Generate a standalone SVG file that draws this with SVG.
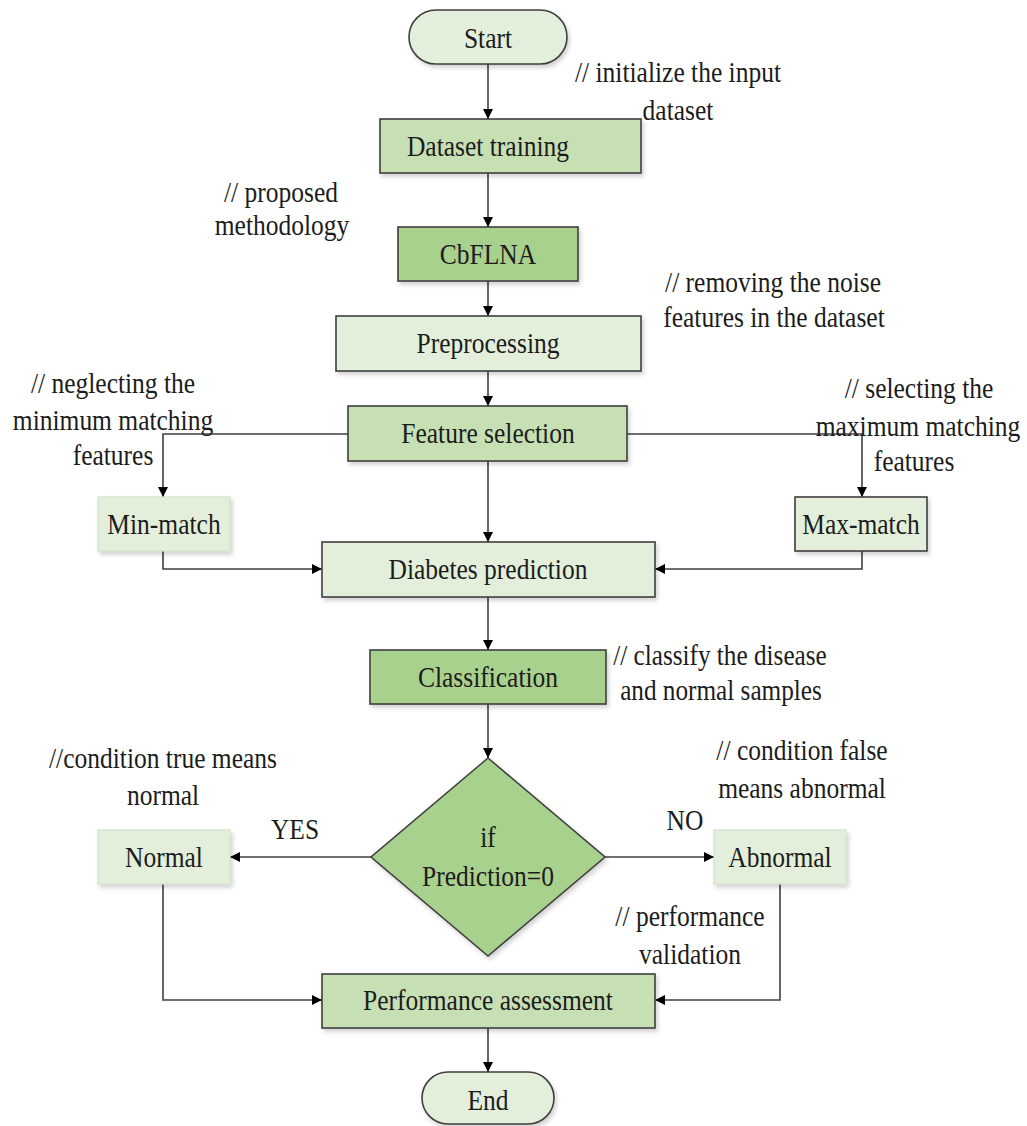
<svg xmlns="http://www.w3.org/2000/svg" width="1027" height="1126" viewBox="0 0 1027 1126">
<style>
text{font-family:"Liberation Serif","Times New Roman",serif;font-size:30px;fill:#1c1c1c;text-anchor:middle}
text.sm{font-size:29px}
.light{fill:#e3efda;stroke:#3f3f3f;stroke-width:1.6}
.pale{fill:#e3efda;stroke:#d3dfcb;stroke-width:1.2}
.mid{fill:#c6e0b4;stroke:#3f3f3f;stroke-width:1.6}
.dark{fill:#a9d18e;stroke:#3f3f3f;stroke-width:1.6}
.conn path{fill:none;stroke:#404040;stroke-width:1.6;marker-end:url(#arr)}
</style>
<defs>
<marker id="arr" markerUnits="userSpaceOnUse" markerWidth="11" markerHeight="11" refX="10" refY="5" orient="auto">
<path d="M0,0 L10,5 L0,10 z" fill="#000"/>
</marker>
<filter id="sh" x="-10%" y="-20%" width="130%" height="150%">
<feDropShadow dx="2" dy="3" stdDeviation="2" flood-color="#000" flood-opacity="0.18"/>
</filter>
</defs>
<rect width="1027" height="1126" fill="#fff"/>

<g class="conn">
<path d="M488,64 V119"/>
<path d="M488,173 V227"/>
<path d="M488,281 V316"/>
<path d="M488,371 V406"/>
<path d="M348,434 H163 V497"/>
<path d="M627,434 H862 V497"/>
<path d="M488,461 V542"/>
<path d="M163,551 V569 H322"/>
<path d="M862,551 V569 H655"/>
<path d="M488,597 V650"/>
<path d="M488,704 V758"/>
<path d="M371,857 H230"/>
<path d="M605,857 H714"/>
<path d="M163,884 V1000 H322"/>
<path d="M780,884 V1000 H655"/>
<path d="M488,1028 V1072"/>
</g>

<g id="start"><rect class="light" x="409" y="10" width="158" height="54" rx="27" filter="url(#sh)"/><text transform="translate(488,48) scale(0.85,1)">Start</text></g>
<g id="dataset-training"><rect class="mid" x="380" y="119" width="261" height="54" filter="url(#sh)"/><text transform="translate(488,156) scale(0.85,1)">Dataset training</text></g>
<g id="cbflna"><rect class="dark" x="398" y="227" width="180" height="54" filter="url(#sh)"/><text transform="translate(488,264) scale(0.85,1)">CbFLNA</text></g>
<g id="preprocessing"><rect class="light" x="336" y="316" width="305" height="55" filter="url(#sh)"/><text transform="translate(488,353) scale(0.85,1)">Preprocessing</text></g>
<g id="feature-selection"><rect class="mid" x="348" y="406" width="279" height="55" filter="url(#sh)"/><text transform="translate(488,443) scale(0.85,1)">Feature selection</text></g>
<g id="min-match"><rect class="pale" x="98" y="497" width="132" height="54" filter="url(#sh)"/><text transform="translate(164,534) scale(0.85,1)">Min-match</text></g>
<g id="max-match"><rect class="light" x="795" y="497" width="132" height="54" filter="url(#sh)"/><text transform="translate(861,534) scale(0.85,1)">Max-match</text></g>
<g id="diabetes-prediction"><rect class="light" x="322" y="542" width="333" height="55" filter="url(#sh)"/><text transform="translate(488,579) scale(0.85,1)">Diabetes prediction</text></g>
<g id="classification"><rect class="dark" x="370" y="650" width="236" height="54" filter="url(#sh)"/><text transform="translate(488,687) scale(0.85,1)">Classification</text></g>
<g id="decision"><path class="dark" d="M488,758 L605,857 L488,956 L371,857 Z" filter="url(#sh)"/><text transform="translate(488,847) scale(0.85,1)">if</text><text transform="translate(488,886) scale(0.85,1)">Prediction=0</text></g>
<g id="normal"><rect class="pale" x="98" y="830" width="132" height="54" filter="url(#sh)"/><text transform="translate(164,867) scale(0.85,1)">Normal</text></g>
<g id="abnormal"><rect class="pale" x="714" y="830" width="132" height="54" filter="url(#sh)"/><text transform="translate(780,867) scale(0.85,1)">Abnormal</text></g>
<g id="performance-assessment"><rect class="mid" x="322" y="974" width="333" height="54" filter="url(#sh)"/><text transform="translate(488,1010) scale(0.85,1)">Performance assessment</text></g>
<g id="end"><rect class="light" x="422" y="1072" width="132" height="52" rx="26" filter="url(#sh)"/><text transform="translate(488,1110) scale(0.85,1)">End</text></g>

<g id="annotations">
<text transform="translate(678,82) scale(0.85,1)">// initialize the input</text>
<text transform="translate(678,120) scale(0.85,1)">dataset</text>
<text transform="translate(281,202) scale(0.85,1)">// proposed</text>
<text transform="translate(282,235) scale(0.85,1)">methodology</text>
<text transform="translate(773,292) scale(0.85,1)">// removing the noise</text>
<text transform="translate(774,327) scale(0.85,1)">features in the dataset</text>
<text transform="translate(113,393) scale(0.85,1)">// neglecting the</text>
<text transform="translate(113,430) scale(0.85,1)">minimum matching</text>
<text transform="translate(113,465) scale(0.85,1)">features</text>
<text transform="translate(919,398) scale(0.85,1)">// selecting the</text>
<text transform="translate(918,436) scale(0.85,1)">maximum matching</text>
<text transform="translate(914,471) scale(0.85,1)">features</text>
<text class="sm" transform="translate(720,665) scale(0.87,1)">// classify  the disease</text>
<text class="sm" transform="translate(721,700) scale(0.87,1)">and normal samples</text>
<text transform="translate(163,768) scale(0.85,1)">//condition true means</text>
<text transform="translate(163,805) scale(0.85,1)">normal</text>
<text transform="translate(802,760) scale(0.85,1)">// condition false</text>
<text transform="translate(802,798) scale(0.85,1)">means abnormal</text>
<text transform="translate(295,839) scale(0.85,1)">YES</text>
<text transform="translate(685,830) scale(0.85,1)">NO</text>
<text transform="translate(690,926) scale(0.85,1)">// performance</text>
<text transform="translate(690,964) scale(0.85,1)">validation</text>
</g>
</svg>
